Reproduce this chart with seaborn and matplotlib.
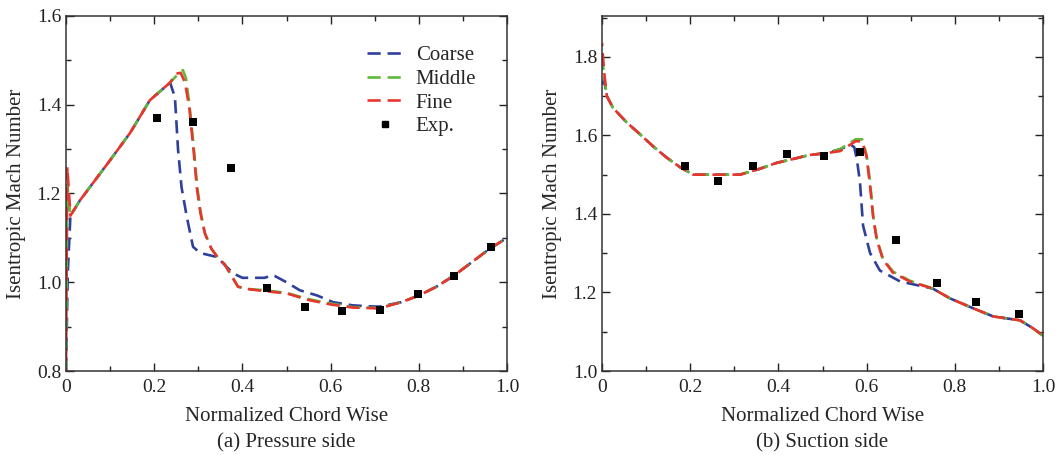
import numpy as np
import pandas as pd
import matplotlib
matplotlib.use("Agg")
import matplotlib.pyplot as plt
import seaborn as sns
from matplotlib.ticker import MultipleLocator, FormatStrFormatter
from matplotlib.lines import Line2D

# ---------------- data ----------------
# (a) Pressure side
ps_coarse_x = [0.0, 0.004, 0.01, 0.032, 0.10, 0.145, 0.19, 0.236, 0.247, 0.254, 0.262, 0.274, 0.288,
               0.304, 0.342, 0.379, 0.40, 0.45, 0.47, 0.50, 0.53, 0.57, 0.606, 0.65, 0.682, 0.71,
               0.76, 0.80, 0.84, 0.88, 0.92, 0.96, 1.0]
ps_coarse_y = [0.80, 1.02, 1.15, 1.185, 1.275, 1.336, 1.41, 1.45, 1.417, 1.30, 1.214, 1.147, 1.08,
               1.066, 1.057, 1.02, 1.01, 1.01, 1.016, 1.0, 0.982, 0.97, 0.955, 0.948, 0.946, 0.945,
               0.955, 0.97, 0.99, 1.015, 1.045, 1.075, 1.10]

ps_middle_x = [0.0, 0.003, 0.01, 0.032, 0.10, 0.145, 0.19, 0.236, 0.255, 0.265, 0.272, 0.28, 0.29,
               0.297, 0.305, 0.315, 0.33, 0.345, 0.36, 0.375, 0.39, 0.41, 0.45, 0.50, 0.55, 0.60,
               0.65, 0.71, 0.76, 0.80, 0.84, 0.88, 0.92, 0.96, 1.0]
ps_middle_y = [0.80, 1.22, 1.15, 1.185, 1.275, 1.336, 1.41, 1.45, 1.47, 1.478, 1.46, 1.40, 1.30,
               1.22, 1.16, 1.11, 1.075, 1.055, 1.04, 1.015, 0.99, 0.985, 0.982, 0.976, 0.962, 0.952,
               0.944, 0.942, 0.955, 0.97, 0.99, 1.015, 1.045, 1.075, 1.10]

ps_fine_x = [0.0, 0.003, 0.01, 0.032, 0.10, 0.145, 0.19, 0.236, 0.25, 0.26, 0.27, 0.28, 0.29,
             0.297, 0.305, 0.315, 0.33, 0.345, 0.36, 0.375, 0.39, 0.41, 0.45, 0.50, 0.55, 0.60,
             0.65, 0.71, 0.76, 0.80, 0.84, 0.88, 0.92, 0.96, 1.0]
ps_fine_y = [0.80, 1.26, 1.15, 1.185, 1.275, 1.336, 1.41, 1.45, 1.47, 1.472, 1.45, 1.39, 1.29,
             1.21, 1.155, 1.11, 1.075, 1.055, 1.04, 1.015, 0.99, 0.985, 0.98, 0.975, 0.96, 0.95,
             0.943, 0.941, 0.955, 0.97, 0.99, 1.015, 1.045, 1.075, 1.10]

ps_exp_x = [0.206, 0.288, 0.374, 0.456, 0.542, 0.626, 0.712, 0.798, 0.880, 0.964]
ps_exp_y = [1.370, 1.361, 1.257, 0.987, 0.944, 0.935, 0.937, 0.973, 1.014, 1.079]

# (b) Suction side
ss_coarse_x = [0.0, 0.005, 0.011, 0.025, 0.056, 0.086, 0.116, 0.146, 0.177, 0.207, 0.25, 0.313,
               0.328, 0.358, 0.396, 0.434, 0.47, 0.51, 0.54, 0.565, 0.572, 0.578, 0.585, 0.592,
               0.608, 0.63, 0.676, 0.75, 0.789, 0.841, 0.887, 0.948, 0.977, 1.0]
ss_coarse_y = [1.73, 1.74, 1.70, 1.67, 1.633, 1.603, 1.572, 1.544, 1.519, 1.50, 1.50, 1.50,
               1.505, 1.515, 1.53, 1.54, 1.55, 1.555, 1.565, 1.575, 1.57, 1.539, 1.48, 1.37,
               1.30, 1.256, 1.228, 1.21, 1.185, 1.16, 1.139, 1.129, 1.109, 1.09]

ss_middle_x = [0.0, 0.005, 0.011, 0.025, 0.056, 0.086, 0.116, 0.146, 0.177, 0.207, 0.25, 0.313,
               0.328, 0.358, 0.396, 0.434, 0.47, 0.51, 0.54, 0.575, 0.59, 0.60, 0.608, 0.615,
               0.623, 0.637, 0.66, 0.698, 0.75, 0.789, 0.841, 0.887, 0.948, 0.977, 1.0]
ss_middle_y = [1.80, 1.75, 1.70, 1.67, 1.633, 1.603, 1.572, 1.544, 1.519, 1.50, 1.50, 1.50,
               1.505, 1.515, 1.53, 1.54, 1.55, 1.555, 1.565, 1.59, 1.59, 1.55, 1.48, 1.395,
               1.337, 1.286, 1.253, 1.23, 1.21, 1.185, 1.16, 1.139, 1.129, 1.109, 1.09]

ss_fine_x = [0.0, 0.005, 0.011, 0.025, 0.056, 0.086, 0.116, 0.146, 0.177, 0.207, 0.25, 0.313,
             0.328, 0.358, 0.396, 0.434, 0.47, 0.51, 0.54, 0.575, 0.59, 0.60, 0.608, 0.615,
             0.623, 0.637, 0.66, 0.698, 0.75, 0.789, 0.841, 0.887, 0.948, 0.977, 1.0]
ss_fine_y = [1.835, 1.76, 1.70, 1.67, 1.633, 1.603, 1.572, 1.544, 1.519, 1.50, 1.50, 1.50,
             1.505, 1.515, 1.53, 1.54, 1.55, 1.555, 1.56, 1.585, 1.585, 1.545, 1.47, 1.39,
             1.335, 1.284, 1.25, 1.228, 1.21, 1.185, 1.16, 1.139, 1.129, 1.109, 1.09]

ss_exp_x = [0.188, 0.263, 0.342, 0.419, 0.503, 0.585, 0.667, 0.759, 0.848, 0.946]
ss_exp_y = [1.522, 1.483, 1.522, 1.552, 1.547, 1.557, 1.334, 1.225, 1.175, 1.144]

series_names = ["Coarse", "Middle", "Fine"]
exp_name = "Exp."
xlabel = "Normalized Chord Wise"
ylabel = "Isentropic Mach Number"
titles = ["(a) Pressure side", "(b) Suction side"]

colors = {"Coarse": "#2f3f9c", "Middle": "#62b83a", "Fine": "#e8352e"}
dash_styles = {"Coarse": (0, (5.0, 2.6)), "Middle": (0, (5.0, 2.6)), "Fine": (3.8, (5.0, 2.6))}

# ---------------- style ----------------
sns.set_theme(style="white")
plt.rcParams["font.family"] = ["Liberation Serif", "DejaVu Serif"]
plt.rcParams["mathtext.fontset"] = "stix"

fig = plt.figure(figsize=(10.58, 4.55), dpi=100)
W, H = 1058, 455
ax1 = fig.add_axes([66 / W, (H - 371) / H, 441 / W, 355 / H])
ax2 = fig.add_axes([602 / W, (H - 371) / H, 441 / W, 355 / H])

panels = [
    (ax1, {"Coarse": (ps_coarse_x, ps_coarse_y), "Middle": (ps_middle_x, ps_middle_y),
           "Fine": (ps_fine_x, ps_fine_y)}, (ps_exp_x, ps_exp_y), (0.8, 1.6), titles[0]),
    (ax2, {"Coarse": (ss_coarse_x, ss_coarse_y), "Middle": (ss_middle_x, ss_middle_y),
           "Fine": (ss_fine_x, ss_fine_y)}, (ss_exp_x, ss_exp_y), (1.0, 1.904), titles[1]),
]

for ax, curves, exp, ylim, title in panels:
    for name in series_names:
        xs, ys = curves[name]
        df = pd.DataFrame({"x": xs, "y": ys})
        sns.lineplot(data=df, x="x", y="y", ax=ax, sort=False, color=colors[name],
                     linewidth=1.9, linestyle=dash_styles[name], legend=False)
    dfe = pd.DataFrame({"x": exp[0], "y": exp[1]})
    sns.scatterplot(data=dfe, x="x", y="y", ax=ax, marker="s", color="black",
                    s=38, edgecolor="black", linewidth=0, zorder=5, legend=False)
    ax.set_xlim(0, 1.0)
    ax.set_ylim(*ylim)
    ax.xaxis.set_major_locator(MultipleLocator(0.2))
    ax.xaxis.set_minor_locator(MultipleLocator(0.1))
    ax.yaxis.set_major_locator(MultipleLocator(0.2))
    ax.yaxis.set_minor_locator(MultipleLocator(0.1))
    ax.xaxis.set_major_formatter(lambda v, p: "0" if abs(v) < 1e-9 else f"{v:.1f}")
    ax.yaxis.set_major_formatter(FormatStrFormatter("%.1f"))
    ax.tick_params(which="both", direction="in", top=True, right=True, bottom=True, left=True,
                   labelsize=14, colors="#222222", width=1.0)
    ax.tick_params(which="major", length=6)
    ax.tick_params(which="minor", length=3.5)
    ax.tick_params(axis="x", pad=6)
    for sp in ax.spines.values():
        sp.set_color("#333333")
        sp.set_linewidth(1.1)
    ax.set_xlabel(xlabel + "\n" + title, fontsize=15, linespacing=1.5, labelpad=8)
    ax.set_ylabel(ylabel, fontsize=15, labelpad=8)

handles = [Line2D([], [], color=colors[n], linewidth=1.9, linestyle=(0, (5.0, 2.6))) for n in series_names]
handles.append(Line2D([], [], color="black", marker="s", markersize=5, linestyle="none"))
ax1.legend(handles, series_names + [exp_name], loc="upper left", bbox_to_anchor=(0.663, 0.94),
           frameon=False, fontsize=15, handlelength=1.8, handletextpad=0.55, labelspacing=0.2,
           borderaxespad=0)

fig.savefig("out.png", dpi=100)
